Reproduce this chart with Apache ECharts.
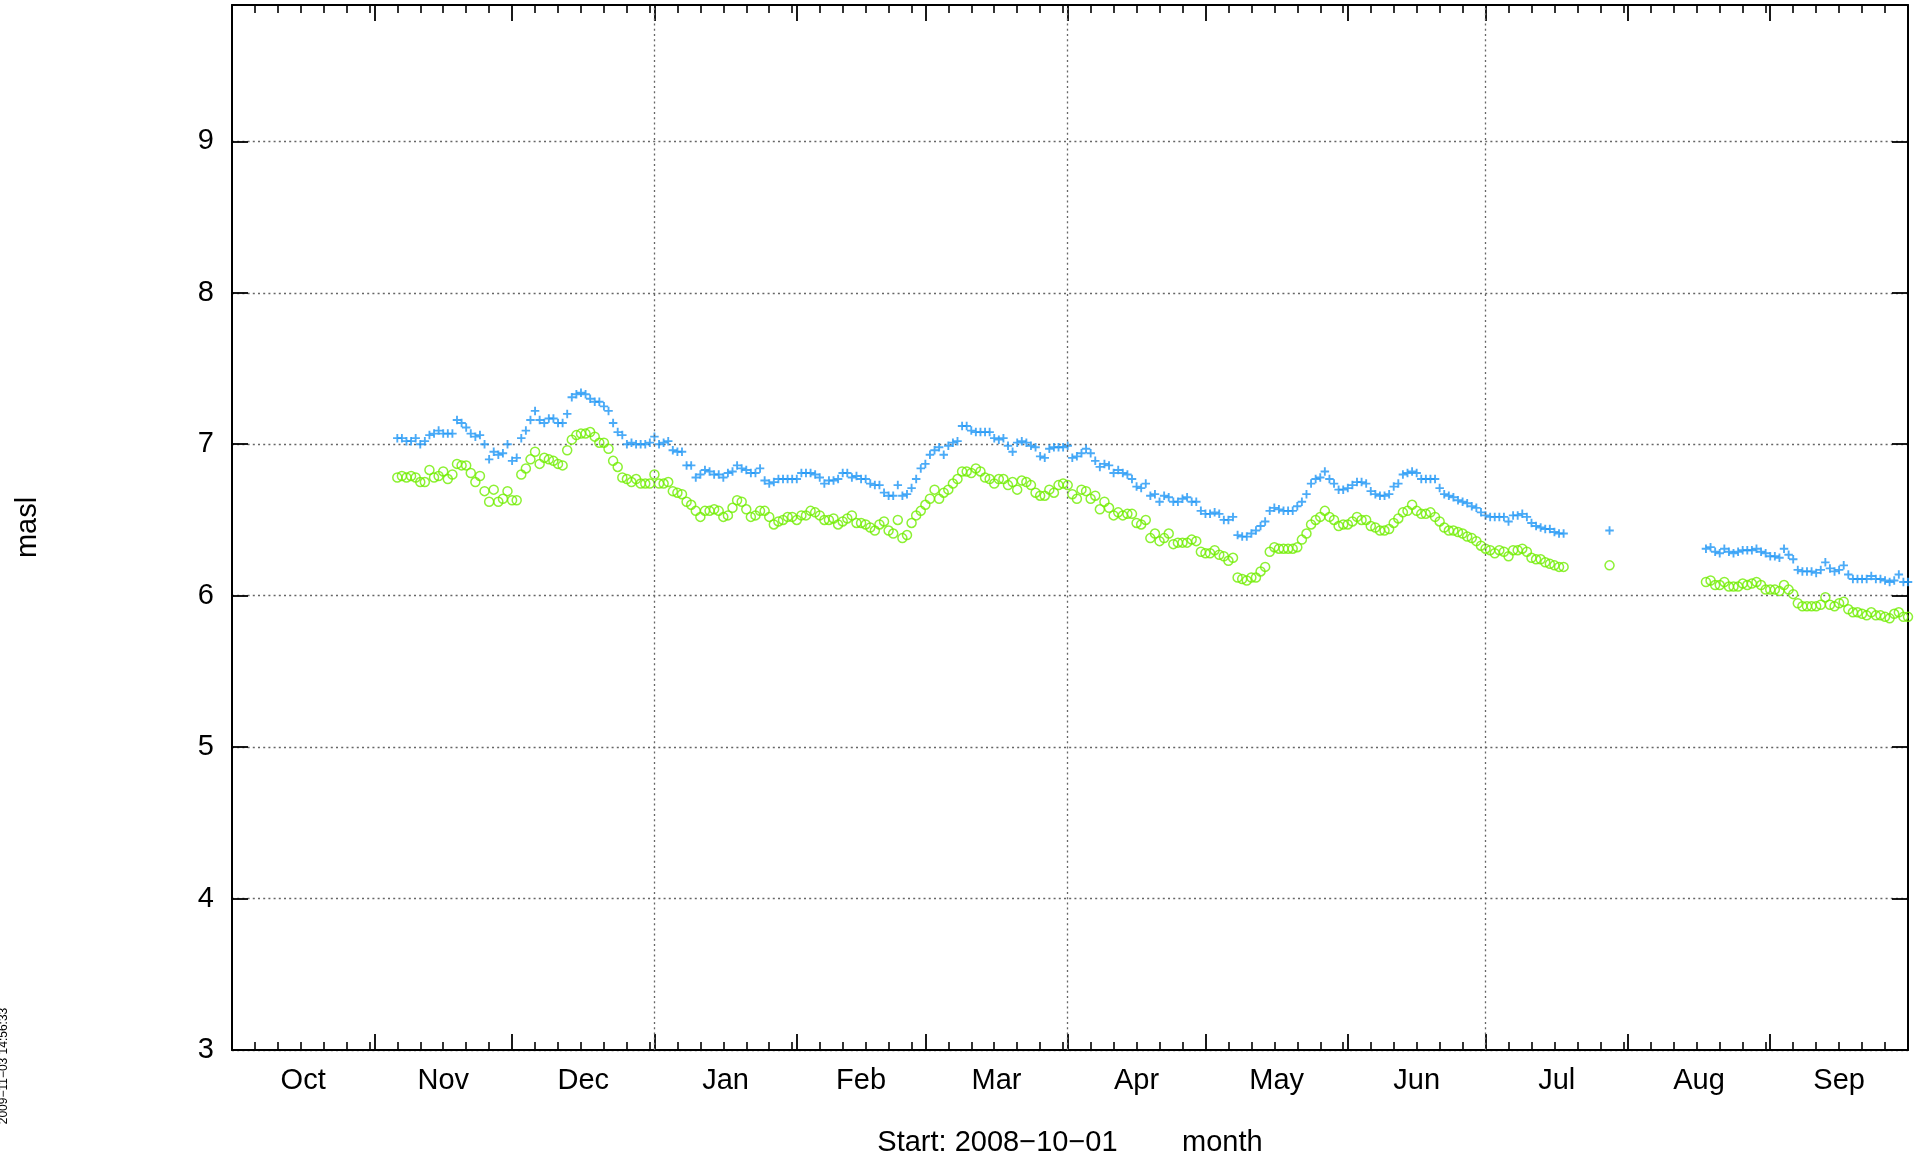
<!DOCTYPE html>
<html>
<head>
<meta charset="utf-8">
<script src="https://cdn.jsdelivr.net/npm/echarts@6/dist/echarts.min.js"></script>
<style>
html,body{margin:0;padding:0;background:#fff;}
#chart{width:1923px;height:1168px;}
</style>
</head>
<body>
<div id="chart"></div>
<script>
// Day 0 = 2008-10-01; values are daily readings (masl)
const startLabel = 'Start: 2008\u221210\u221201        month';
const stampText = '2009\u221211\u221203 14:56:33';
const monthNames = ['Oct','Nov','Dec','Jan','Feb','Mar','Apr','May','Jun','Jul','Aug','Sep'];
const monthStarts = [0,31,61,92,123,151,182,212,243,273,304,335,365];
const quarterLines = [92,182,273];
const yTicks = [3,4,5,6,7,8,9];
const firstDay = 36;

const upperSeries = [
7.04,7.04,7.02,7.02,7.04,7.00,7.02,7.06,7.07,7.09,7.07,7.07,7.07,7.16,7.14,7.11,7.07,7.05,7.06,7.00,
6.90,6.95,6.93,6.94,7.00,6.89,6.91,7.04,7.09,7.16,7.22,7.16,7.14,7.17,7.17,7.14,7.14,7.20,7.31,7.33,
7.34,7.33,7.30,7.28,7.28,7.25,7.22,7.14,7.08,7.06,7.00,7.01,7.00,7.00,7.00,7.01,7.05,7.00,7.01,7.02,
6.96,6.95,6.95,6.86,6.86,6.78,6.80,6.83,6.82,6.80,6.80,6.78,6.81,6.82,6.86,6.84,6.83,6.81,6.81,6.84,
6.76,6.74,6.75,6.77,6.77,6.77,6.77,6.77,6.81,6.81,6.81,6.80,6.78,6.74,6.76,6.76,6.77,6.81,6.81,6.78,
6.79,6.77,6.77,6.74,6.73,6.73,6.68,6.66,6.66,6.73,6.66,6.67,6.71,6.77,6.84,6.87,6.93,6.96,6.98,6.93,
6.99,7.01,7.02,7.12,7.12,7.09,7.08,7.08,7.08,7.08,7.04,7.03,7.04,6.99,6.95,7.01,7.02,7.01,6.99,6.98,
6.92,6.91,6.97,6.98,6.98,6.98,6.99,6.91,6.92,6.94,6.97,6.94,6.89,6.85,6.87,6.86,6.81,6.83,6.81,6.80,
6.77,6.72,6.71,6.74,6.66,6.67,6.62,6.66,6.65,6.62,6.62,6.64,6.65,6.62,6.62,6.56,6.54,6.54,6.55,6.54,
6.50,6.50,6.52,6.40,6.39,6.39,6.41,6.43,6.46,6.49,6.56,6.58,6.57,6.56,6.56,6.56,6.59,6.62,6.67,6.74,
6.77,6.78,6.82,6.77,6.74,6.70,6.70,6.71,6.73,6.75,6.75,6.74,6.69,6.67,6.66,6.66,6.67,6.72,6.74,6.80,
6.81,6.82,6.81,6.77,6.77,6.77,6.77,6.71,6.67,6.66,6.65,6.63,6.62,6.61,6.59,6.58,6.55,6.53,6.52,6.52,
6.52,6.52,6.49,6.53,6.53,6.54,6.52,6.48,6.46,6.45,6.44,6.44,6.42,6.41,6.41,
null,null,null,null,null,null,null,null,null,
6.43,
null,null,null,null,null,null,null,null,null,null,null,null,null,null,null,null,null,null,null,null,
6.31,6.32,6.29,6.28,6.31,6.29,6.28,6.29,6.30,6.30,6.30,6.31,6.29,6.28,6.26,6.26,6.25,6.31,6.27,6.24,
6.17,6.16,6.16,6.16,6.15,6.17,6.22,6.18,6.16,6.17,6.20,6.14,6.11,6.11,6.11,6.11,6.13,6.11,6.11,6.10,
6.09,6.10,6.14,6.09,6.09
];

const lowerSeries = [
6.78,6.79,6.78,6.79,6.78,6.75,6.75,6.83,6.78,6.79,6.82,6.77,6.80,6.87,6.86,6.86,6.81,6.75,6.79,6.69,
6.62,6.70,6.62,6.64,6.69,6.63,6.63,6.80,6.84,6.90,6.95,6.87,6.91,6.90,6.89,6.87,6.86,6.96,7.03,7.06,
7.07,7.07,7.08,7.05,7.01,7.01,6.97,6.89,6.85,6.78,6.77,6.75,6.77,6.74,6.74,6.74,6.80,6.74,6.74,6.75,
6.69,6.68,6.67,6.62,6.60,6.56,6.52,6.56,6.56,6.57,6.56,6.52,6.53,6.58,6.63,6.62,6.57,6.52,6.53,6.56,
6.56,6.52,6.47,6.49,6.50,6.52,6.52,6.50,6.53,6.53,6.56,6.55,6.53,6.50,6.50,6.51,6.47,6.49,6.51,6.53,
6.48,6.48,6.47,6.45,6.43,6.47,6.49,6.43,6.41,6.50,6.38,6.40,6.48,6.53,6.56,6.60,6.64,6.70,6.64,6.68,
6.70,6.74,6.77,6.82,6.82,6.81,6.84,6.82,6.78,6.77,6.74,6.77,6.77,6.73,6.75,6.70,6.76,6.75,6.73,6.68,
6.66,6.66,6.70,6.68,6.73,6.74,6.73,6.67,6.64,6.70,6.69,6.64,6.66,6.57,6.62,6.58,6.53,6.55,6.53,6.54,
6.54,6.48,6.47,6.50,6.38,6.41,6.36,6.38,6.41,6.34,6.35,6.35,6.35,6.37,6.36,6.29,6.28,6.28,6.30,6.27,
6.26,6.23,6.25,6.12,6.11,6.10,6.12,6.12,6.16,6.19,6.29,6.32,6.31,6.31,6.31,6.31,6.32,6.37,6.41,6.47,
6.50,6.52,6.56,6.52,6.50,6.46,6.47,6.47,6.49,6.52,6.50,6.50,6.46,6.45,6.43,6.43,6.44,6.48,6.51,6.55,
6.56,6.60,6.56,6.54,6.54,6.55,6.52,6.49,6.45,6.43,6.43,6.42,6.41,6.39,6.38,6.36,6.33,6.31,6.30,6.28,
6.30,6.29,6.26,6.30,6.30,6.31,6.29,6.25,6.24,6.24,6.22,6.21,6.20,6.19,6.19,
null,null,null,null,null,null,null,null,null,
6.20,
null,null,null,null,null,null,null,null,null,null,null,null,null,null,null,null,null,null,null,null,
6.09,6.10,6.07,6.07,6.09,6.06,6.06,6.06,6.08,6.07,6.08,6.09,6.07,6.04,6.04,6.04,6.03,6.07,6.04,6.01,
5.95,5.93,5.93,5.93,5.93,5.94,5.99,5.94,5.93,5.95,5.96,5.91,5.89,5.89,5.88,5.87,5.89,5.87,5.87,5.86,
5.85,5.88,5.89,5.86,5.86
];

function toPoints(arr){
  const out = [];
  arr.forEach((v,i)=>{ if (v !== null) out.push([firstDay + i, v]); });
  return out;
}

// ticks derived from month boundaries
const labelPos = [];
const minorTicks = [];
for (let m = 0; m < monthNames.length; m++) {
  const a = monthStarts[m], b = monthStarts[m+1];
  labelPos.push((a + b) / 2);
  for (let k = 5; a + k < b; k += 5) minorTicks.push(a + k);
}
function monthFor(v){
  for (let m = 0; m < monthNames.length; m++) {
    if (Math.abs(labelPos[m] - v) < 0.01) return monthNames[m];
  }
  return '';
}

const FONT = "'Liberation Sans', Arial, Helvetica, sans-serif";
const AX = '#000';
const gridDash = {color:'#666', type:[2,3.2], width:1.3};
const majorTick = {show:true, inside:true, length:16, lineStyle:{color:AX, width:1.8}};
const minorTick = {show:true, inside:true, length:8, lineStyle:{color:AX, width:1.6}};

const chart = echarts.init(document.getElementById('chart'), null, {renderer:'canvas'});
const option = {
  animation: false,
  backgroundColor: '#fff',
  grid: {left:232, right:15, top:5, bottom:118, containLabel:false, outerBoundsMode:'none'},
  xAxis: [
    {
      type:'value', position:'bottom', min:0, max:365,
      axisLine:{show:true, onZero:false, lineStyle:{color:AX, width:2}},
      axisTick:Object.assign({customValues: monthStarts}, majorTick),
      axisLabel:{show:true, customValues: labelPos, formatter: monthFor, margin:16,
                 color:'#000', fontSize:29, fontFamily:FONT},
      splitLine:{show:false},
      name: startLabel, nameLocation:'middle', nameGap:78,
      nameTextStyle:{color:'#000', fontSize:29, fontFamily:FONT}
    },
    {
      type:'value', position:'bottom', min:0, max:365,
      axisLine:{show:false, onZero:false},
      axisTick:Object.assign({customValues: minorTicks}, minorTick),
      axisLabel:{show:false}, splitLine:{show:false}
    },
    {
      type:'value', position:'top', min:0, max:365,
      axisLine:{show:true, onZero:false, lineStyle:{color:AX, width:2}},
      axisTick:Object.assign({customValues: monthStarts}, majorTick),
      axisLabel:{show:false}, splitLine:{show:false}
    },
    {
      type:'value', position:'top', min:0, max:365,
      axisLine:{show:false, onZero:false},
      axisTick:Object.assign({customValues: minorTicks}, minorTick),
      axisLabel:{show:false}, splitLine:{show:false}
    }
  ],
  yAxis: [
    {
      type:'value', position:'left', min:3, max:9.9, interval:1,
      axisLine:{show:true, onZero:false, lineStyle:{color:AX, width:2}},
      axisTick:Object.assign({customValues: yTicks}, majorTick),
      axisLabel:{show:true, customValues: yTicks, margin:18, color:'#000', fontSize:29, fontFamily:FONT,
                 formatter: v => String(v)},
      splitLine:{show:true, lineStyle:gridDash},
      name:'masl', nameLocation:'middle', nameGap:190, nameRotate:90,
      nameTextStyle:{color:'#000', fontSize:29, fontFamily:FONT}
    },
    {
      type:'value', position:'right', min:3, max:9.9, interval:1,
      axisLine:{show:true, onZero:false, lineStyle:{color:AX, width:2}},
      axisTick:Object.assign({customValues: yTicks}, majorTick),
      axisLabel:{show:false}, splitLine:{show:false}
    }
  ],
  series: [
    {
      type:'scatter', name:'lower', xAxisIndex:0, yAxisIndex:0,
      data: toPoints(lowerSeries),
      symbol:'circle', symbolSize:9,
      itemStyle:{color:'rgba(0,0,0,0)', borderColor:'#70ee00', borderWidth:1.5},
      markLine:{
        silent:true, symbol:['none','none'], label:{show:false},
        lineStyle:gridDash, emphasis:{disabled:true},
        data: quarterLines.map(d => ({xAxis:d}))
      }
    },
    {
      type:'scatter', name:'upper', xAxisIndex:0, yAxisIndex:0,
      data: toPoints(upperSeries),
      symbol:'path://M0.39,0 L0.61,0 L0.61,0.39 L1,0.39 L1,0.61 L0.61,0.61 L0.61,1 L0.39,1 L0.39,0.61 L0,0.61 L0,0.39 L0.39,0.39 Z',
      symbolSize:8.5,
      itemStyle:{color:'#1e96f5'}
    }
  ],
  graphic: [
    {
      type:'text', x:4, y:1066, rotation:Math.PI/2,
      style:{text:stampText, fontSize:12, fill:'#000', fontFamily:FONT, align:'center', verticalAlign:'middle'}
    }
  ]
};
chart.setOption(option);
</script>
</body>
</html>
